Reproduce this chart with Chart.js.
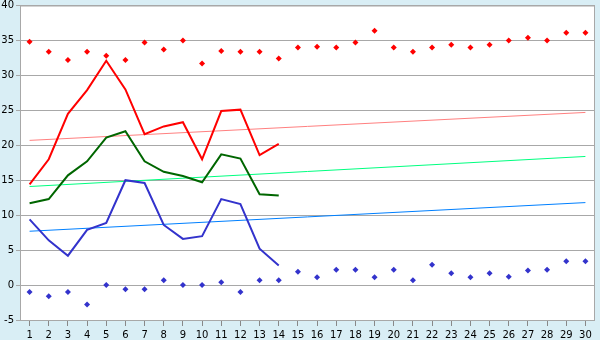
<!DOCTYPE html>
<html>
<head>
<meta charset="utf-8">
<script src="https://cdn.jsdelivr.net/npm/chart.js@4/dist/chart.umd.min.js"></script>
<style>
  body { margin: 0; background: #d9eef5; }
  canvas { display: block; }
</style>
</head>
<body>
<canvas id="myChart" width="600" height="340"></canvas>
<script>
const days = ['1','2','3','4','5','6','7','8','9','10','11','12','13','14','15',
  '16','17','18','19','20','21','22','23','24','25','26','27','28','29','30'];

const redPoints = [34.8, 33.4, 32.2, 33.4, 32.8, 32.2, 34.7, 33.7, 35.0, 31.7,
  33.5, 33.4, 33.4, 32.4, 34.0, 34.1, 34.0, 34.7, 36.4, 34.0,
  33.4, 34.0, 34.4, 34.0, 34.4, 35.0, 35.4, 35.0, 36.1, 36.1];
const bluePoints = [-1.0, -1.6, -1.0, -2.8, 0.0, -0.6, -0.6, 0.7, 0.0, 0.0,
  0.4, -1.0, 0.7, 0.7, 1.9, 1.1, 2.2, 2.2, 1.1, 2.2,
  0.7, 2.9, 1.7, 1.1, 1.7, 1.2, 2.1, 2.2, 3.4, 3.4];

const redLine = [14.4, 18.0, 24.5, 27.9, 32.1, 28.0, 21.6, 22.7, 23.3, 18.0, 24.9, 25.1, 18.6, 20.2];
const greenLine = [11.7, 12.3, 15.7, 17.7, 21.1, 22.0, 17.7, 16.2, 15.6, 14.7, 18.7, 18.1, 13.0, 12.8];
const blueLine = [9.4, 6.4, 4.2, 7.9, 8.9, 15.0, 14.6, 8.6, 6.6, 7.0, 12.3, 11.6, 5.2, 2.8];

// trend lines, start and end values
const redTrend = [20.7, 24.7];
const greenTrend = [14.1, 18.4];
const blueTrend = [7.7, 11.8];

const yTicks = { min: -5, max: 40, step: 5 };

function trend(ends) {
  return [{ x: days[0], y: ends[0] }, { x: days[days.length - 1], y: ends[1] }];
}

function pointSet(data, color) {
  return {
    data: data,
    showLine: false,
    pointStyle: 'rectRot',
    pointRadius: 3,
    pointBackgroundColor: color,
    pointBorderColor: color,
    pointBorderWidth: 0,
  };
}

function lineSet(data, color, width) {
  return {
    data: data,
    borderColor: color,
    borderWidth: width,
    pointRadius: 0,
    tension: 0,
    fill: false,
  };
}

const plotBorder = {
  id: 'plotBorder',
  beforeDraw(chart) {
    const a = chart.chartArea;
    const ctx = chart.ctx;
    ctx.save();
    ctx.fillStyle = '#ffffff';
    ctx.fillRect(a.left, a.top, a.right - a.left, a.bottom - a.top);
    ctx.restore();
  },
  afterDraw(chart) {
    const a = chart.chartArea;
    const ctx = chart.ctx;
    ctx.save();
    ctx.strokeStyle = '#a8a8a8';
    ctx.lineWidth = 1;
    ctx.strokeRect(a.left + 0.5, a.top + 0.5, a.right - a.left - 1, a.bottom - a.top);
    ctx.restore();
  },
};

const myChart = new Chart(document.getElementById('myChart'), {
  type: 'line',
  data: {
    labels: days,
    datasets: [
      pointSet(redPoints, '#ff0000'),
      pointSet(bluePoints, '#3333cc'),
      lineSet(redLine, '#ff0000', 2),
      lineSet(greenLine, '#006600', 2),
      lineSet(blueLine, '#3333cc', 2),
      lineSet(trend(redTrend), '#ff8080', 1),
      lineSet(trend(greenTrend), '#00ff80', 1),
      lineSet(trend(blueTrend), '#0080ff', 1),
    ],
  },
  options: {
    responsive: false,
    animation: false,
    layout: { padding: { top: 0, right: 5, left: 0, bottom: 0 } },
    plugins: {
      legend: { display: false },
      tooltip: { enabled: false },
    },
    scales: {
      x: {
        offset: true,
        afterFit: (scale) => { scale.height = 20; },
        grid: {
          drawOnChartArea: false,
          drawTicks: true,
          tickLength: 6,
          color: '#888888',
          offset: false,
        },
        border: { display: false },
        ticks: {
          color: '#000000',
          font: { family: 'DejaVu Sans', size: 10 },
          padding: 3,
          maxRotation: 0,
          autoSkip: false,
        },
      },
      y: {
        min: yTicks.min,
        max: yTicks.max,
        afterFit: (scale) => { scale.width = 20; },
        grid: {
          color: '#a8a8a8',
          tickLength: 4,
        },
        border: { color: '#a8a8a8' },
        ticks: {
          stepSize: yTicks.step,
          color: '#000000',
          font: { family: 'DejaVu Sans', size: 10, lineHeight: 0.7 },
          padding: 2,
        },
      },
    },
  },
  plugins: [plotBorder],
});
</script>
</body>
</html>
